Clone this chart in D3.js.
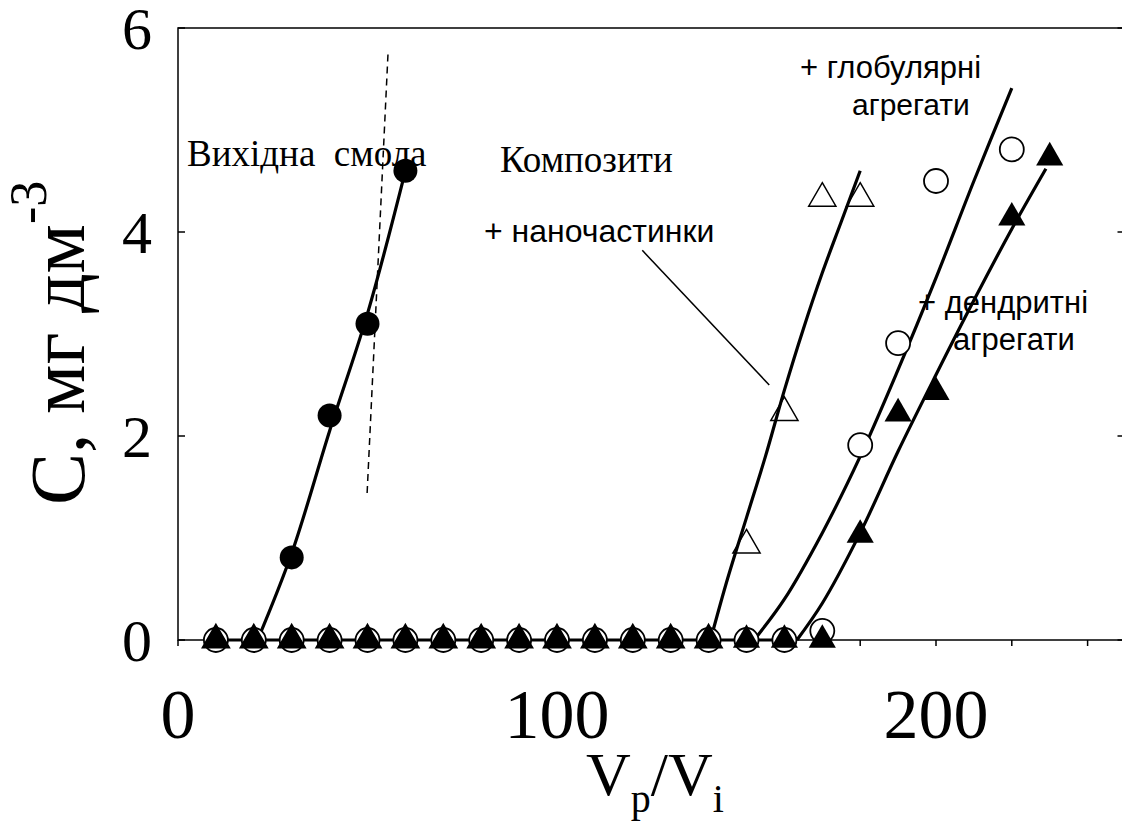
<!DOCTYPE html>
<html>
<head>
<meta charset="utf-8">
<script src="https://cdn.jsdelivr.net/npm/d3@7"></script>
<style>
  body { margin: 0; background: #fff; }
  svg { display: block; }
  .serif { font-family: "Liberation Serif", "Times New Roman", serif; }
  .sans { font-family: "Liberation Sans", Arial, sans-serif; }
</style>
</head>
<body>
<svg id="chart" width="1122" height="823"></svg>
<script>
// measured points (V_p/V_i, C)
const resinPts = [[10, 0], [20, 0], [30, 0.81], [40, 2.2], [50, 3.1], [60, 4.6]];
const nanoPts = [[10, 0], [20, 0], [30, 0], [40, 0], [50, 0], [60, 0], [70, 0], [80, 0], [90, 0],
  [100, 0], [110, 0], [120, 0], [130, 0], [140, 0], [150, 0.93], [160, 2.23], [170, 4.33], [180, 4.33]];
const globPts = [[10, 0], [20, 0], [30, 0], [40, 0], [50, 0], [60, 0], [70, 0], [80, 0], [90, 0],
  [100, 0], [110, 0], [120, 0], [130, 0], [140, 0], [150, 0], [160, 0], [170, 0.09],
  [180, 1.91], [190, 2.91], [200, 4.5], [220, 4.81]];
const dendPts = [[10, 0], [20, 0], [30, 0], [40, 0], [50, 0], [60, 0], [70, 0], [80, 0], [90, 0],
  [100, 0], [110, 0], [120, 0], [130, 0], [140, 0], [150, 0], [160, 0], [170, 0],
  [180, 1.03], [190, 2.22], [200, 2.43], [220, 4.14], [230, 4.73]];

// fitted curves
const zeroLine = [[10, 0], [163, 0]];
const resinCurve = [[21, 0], [30, 0.85], [40, 2.05], [50, 3.2], [60, 4.6]];
const nanoCurve = [[140.5, 0], [145, 0.6], [150, 1.2], [155, 1.8], [160, 2.45], [165, 3.05], [170, 3.6], [175, 4.1], [180, 4.6]];
const globCurve = [[152, 0], [160, 0.4], [170, 1.05], [180, 1.8], [190, 2.65], [200, 3.55], [210, 4.5], [220, 5.41]];
const dendCurve = [[163.3, 0], [170, 0.36], [180, 1.05], [190, 1.85], [200, 2.6], [210, 3.33], [220, 4.03], [229, 4.62]];
const dashLine = [[55.4, 5.74], [49.9, 1.44]];
const leaderLine = [[122.5, 3.82], [156, 2.5]];

const xTicks = [0, 100, 200];
const xMinorTicks = d3.range(0, 251, 20);
const yTicks = [0, 2, 4, 6];

const svg = d3.select("#chart");
const x = d3.scaleLinear().domain([0, 250]).range([178, 1125.5]);
const y = d3.scaleLinear().domain([0, 6]).range([640, 28]);

// frame
svg.append("rect")
    .attr("x", x(0)).attr("y", y(6))
    .attr("width", x(250) - x(0)).attr("height", y(0) - y(6))
    .attr("fill", "none").attr("stroke", "#000").attr("stroke-width", 1.5);

// ticks
svg.append("g").selectAll("line").data(xMinorTicks).join("line")
    .attr("x1", d => x(d)).attr("x2", d => x(d))
    .attr("y1", y(0)).attr("y2", y(0) + 6)
    .attr("stroke", "#000").attr("stroke-width", 1.5);
svg.append("g").selectAll("line").data(yTicks).join("line")
    .attr("x1", x(0)).attr("x2", x(0) + 7)
    .attr("y1", d => y(d)).attr("y2", d => y(d))
    .attr("stroke", "#000").attr("stroke-width", 1.5);
svg.append("g").selectAll("line").data(yTicks).join("line")
    .attr("x1", x(250)).attr("x2", x(250) - 8)
    .attr("y1", d => y(d)).attr("y2", d => y(d))
    .attr("stroke", "#000").attr("stroke-width", 1.5);

// tick labels
svg.append("g").selectAll("text").data(xTicks).join("text")
    .attr("class", "serif")
    .attr("x", d => x(d)).attr("y", 738)
    .attr("text-anchor", "middle").attr("font-size", 70)
    .text(d => d);
svg.append("g").selectAll("text").data(yTicks).join("text")
    .attr("class", "serif")
    .attr("x", 152).attr("y", d => y(d) + 21)
    .attr("text-anchor", "end").attr("font-size", 60)
    .text(d => d);

// axis titles
const xt = svg.append("text").attr("class", "serif")
    .attr("x", 586).attr("y", 795).attr("font-size", 62);
xt.append("tspan").text("V");
xt.append("tspan").attr("dy", 17).attr("font-size", 40).text("p");
xt.append("tspan").attr("dy", -17).text("/V");
xt.append("tspan").attr("dy", 17).attr("font-size", 40).text("i");

const yt = svg.append("text").attr("class", "serif")
    .attr("transform", "translate(84,505) rotate(-90)")
    .attr("font-size", 78);
yt.append("tspan").text("C, мг дм");
yt.append("tspan").attr("dy", -38).attr("font-size", 52).text("-3");

// lines
const line = d3.line().x(d => x(d[0])).y(d => y(d[1]));
const smooth = d3.line().x(d => x(d[0])).y(d => y(d[1])).curve(d3.curveCatmullRom);

svg.append("path").datum(dashLine).attr("d", line)
    .attr("fill", "none").attr("stroke", "#000").attr("stroke-width", 1.5)
    .attr("stroke-dasharray", "7,5");
svg.append("path").datum(leaderLine).attr("d", line)
    .attr("fill", "none").attr("stroke", "#000").attr("stroke-width", 1.5);

[zeroLine, resinCurve, nanoCurve, globCurve, dendCurve].forEach(c => {
    svg.append("path").datum(c).attr("d", smooth)
        .attr("fill", "none").attr("stroke", "#000").attr("stroke-width", 3.2);
});

// markers
const tri = d3.symbol().type(d3.symbolTriangle).size(320);
svg.append("g").selectAll("circle").data(resinPts).join("circle")
    .attr("cx", d => x(d[0])).attr("cy", d => y(d[1])).attr("r", 12)
    .attr("fill", "#000");
svg.append("g").selectAll("circle").data(globPts).join("circle")
    .attr("cx", d => x(d[0])).attr("cy", d => y(d[1])).attr("r", 12)
    .attr("fill", "#fff").attr("stroke", "#000").attr("stroke-width", 1.8);
svg.append("g").selectAll("path").data(nanoPts).join("path")
    .attr("d", tri)
    .attr("transform", d => `translate(${x(d[0])},${y(d[1])})`)
    .attr("fill", "none").attr("stroke", "#000").attr("stroke-width", 1.5);
svg.append("g").selectAll("path").data(dendPts).join("path")
    .attr("d", tri)
    .attr("transform", d => `translate(${x(d[0])},${y(d[1])})`)
    .attr("fill", "#000");

// annotations
svg.append("text").attr("class", "serif").attr("x", 187).attr("y", 166)
    .attr("font-size", 37).attr("xml:space", "preserve").text("Вихідна  смола");
svg.append("text").attr("class", "serif").attr("x", 500).attr("y", 172)
    .attr("font-size", 37).text("Композити");
svg.append("text").attr("class", "sans").attr("x", 484).attr("y", 242)
    .attr("font-size", 32).text("+ наночастинки");
svg.append("text").attr("class", "sans").attr("x", 800).attr("y", 78)
    .attr("font-size", 31).text("+ глобулярні");
svg.append("text").attr("class", "sans").attr("x", 852).attr("y", 115)
    .attr("font-size", 30).text("агрегати");
svg.append("text").attr("class", "sans").attr("x", 918).attr("y", 313)
    .attr("font-size", 31).text("+ дендритні");
svg.append("text").attr("class", "sans").attr("x", 953).attr("y", 350)
    .attr("font-size", 31).text("агрегати");
</script>
</body>
</html>
